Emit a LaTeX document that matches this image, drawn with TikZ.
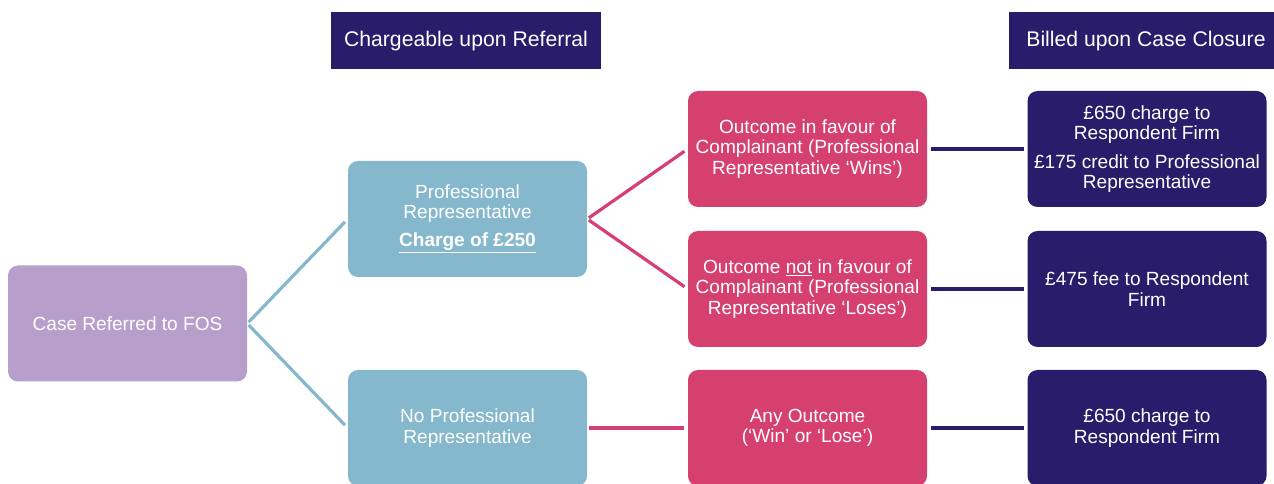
\documentclass[tikz,border=0pt]{standalone}
\usepackage{fontspec}
\setmainfont{Liberation Sans}
\definecolor{casefill}{HTML}{B89FCB}
\definecolor{repfill}{HTML}{86B8CD}
\definecolor{outfill}{HTML}{D6406F}
\definecolor{billfill}{HTML}{291C6B}
\begin{document}
\begin{tikzpicture}[x=0.75pt,y=-0.75pt,
  box/.style={rounded corners=7.5pt, minimum width=179.25pt, minimum height=87pt,
    inner sep=0pt, text=white, align=center, font=\fontsize{14.3}{15.2}\selectfont},
  casebox/.style={box, fill=casefill},
  repbox/.style={box, fill=repfill},
  outbox/.style={box, fill=outfill},
  billbox/.style={box, fill=billfill},
  headbox/.style={fill=billfill, text=white, minimum height=42.75pt, inner sep=0pt,
    font=\fontsize{15.9}{17}\selectfont},
  repline/.style={draw=repfill, line width=2.4pt, shorten <=1.5pt, shorten >=3pt},
  outcomeline/.style={draw=outfill, line width=2.4pt, shorten <=1.5pt, shorten >=3pt},
  billline/.style={draw=billfill, line width=3pt, shorten <=3pt, shorten >=2.25pt}]
\clip (0,0) rectangle (1274,484);
\fill[white] (0,0) rectangle (1274,484);

% column headings
\node[headbox, minimum width=202.5pt] (head1) at (466,41) {Chargeable upon Referral};
\node[headbox, minimum width=205.5pt] (head2) at (1146,41) {Billed upon Case Closure};

% referral
\node[casebox] (case) at (127.5,323.5) {Case Referred to FOS};

% representation
\node[repbox] (prof) at (467.5,219) {Professional\\Representative\\[6pt]\textbf{\underline{Charge of £250}}};
\node[repbox] (noprof) at (467.5,428) {No Professional\\Representative};

% outcomes
\node[outbox] (win) at (807.5,149) {Outcome in favour of\\Complainant (Professional\\Representative ‘Wins’)};
\node[outbox] (lose) at (807.5,289) {Outcome \underline{not} in favour of\\Complainant (Professional\\Representative ‘Loses’)};
\node[outbox] (any) at (807.5,428) {Any Outcome\\(‘Win’ or ‘Lose’)};

% billing
\node[billbox] (billwin) at (1147,149) {£650 charge to\\Respondent Firm\\[6pt]£175 credit to Professional\\Representative};
\node[billbox] (billlose) at (1147,289) {£475 fee to Respondent\\Firm};
\node[billbox] (billany) at (1147,428) {£650 charge to\\Respondent Firm};

% connectors
\draw[repline] (case.east) -- (prof.west);
\draw[repline] (case.east) -- (noprof.west);
\draw[outcomeline] (prof.east) -- (win.west);
\draw[outcomeline] (prof.east) -- (lose.west);
\draw[outcomeline] (noprof.east) -- (any.west);
\draw[billline] (win.east) -- (billwin.west);
\draw[billline] (lose.east) -- (billlose.west);
\draw[billline] (any.east) -- (billany.west);
\end{tikzpicture}
\end{document}
